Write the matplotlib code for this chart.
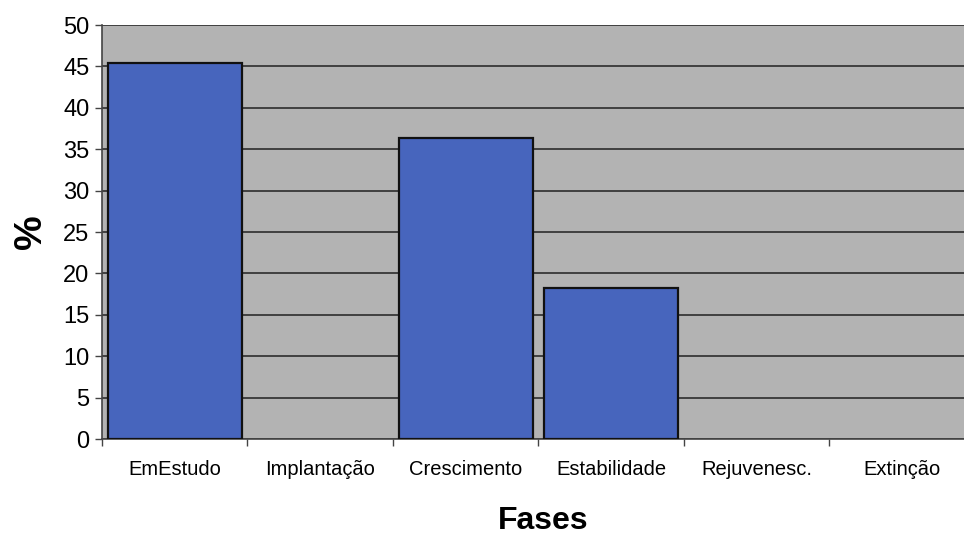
import matplotlib.pyplot as plt
import numpy as np

# Share of cases in each life-cycle phase (%)
phases = ["EmEstudo", "Implantação", "Crescimento", "Estabilidade", "Rejuvenesc.", "Extinção"]
shares = [45.45, 0.0, 36.36, 18.18, 0.0, 0.0]
y_ticks = list(range(0, 51, 5))

BAR_COLOR = "#4765bd"
PLOT_BG = "#b3b3b3"

plt.rcParams["font.family"] = ["Liberation Sans", "DejaVu Sans"]

fig = plt.figure(figsize=(9.64, 5.4), dpi=100)
# axes run a little past the right edge of the figure
ax = fig.add_axes([0.1058, 0.187, 0.9056, 0.7667])
ax.set_facecolor(PLOT_BG)

x = np.arange(len(phases))
# empty phases get no outline along the baseline
edge_widths = [1.6 if v > 0 else 0 for v in shares]
ax.bar(x, shares, width=0.92, color=BAR_COLOR, edgecolor="#111111",
       linewidth=edge_widths, zorder=3)

ax.set_xlim(-0.5, len(phases) - 0.5)
ax.set_ylim(0, 50)
ax.set_yticks(y_ticks)
ax.yaxis.grid(True, color="#222222", linewidth=1.1, zorder=1)
ax.set_axisbelow(True)

# category separators as major ticks, names on minor ticks
ax.set_xticks(np.arange(len(phases) + 1) - 0.5)
ax.set_xticklabels([])
ax.set_xticks(x, minor=True)
ax.set_xticklabels(phases, minor=True, fontsize=14.5)
ax.tick_params(axis="x", which="minor", length=0, pad=15)
ax.tick_params(axis="x", which="major", length=5, width=1, color="#444444")
ax.tick_params(axis="y", length=5, width=1, color="#444444", labelsize=17, pad=4)

for side in ("top", "right"):
    ax.spines[side].set_visible(False)
for side in ("left", "bottom"):
    ax.spines[side].set_color("#444444")
    ax.spines[side].set_linewidth(1.2)

ax.set_ylabel("%", fontsize=28, fontweight="bold", labelpad=10)
fig.text(0.563, 0.02, "Fases", fontsize=23, fontweight="bold", ha="center")

fig.savefig("out.png", dpi=100)
